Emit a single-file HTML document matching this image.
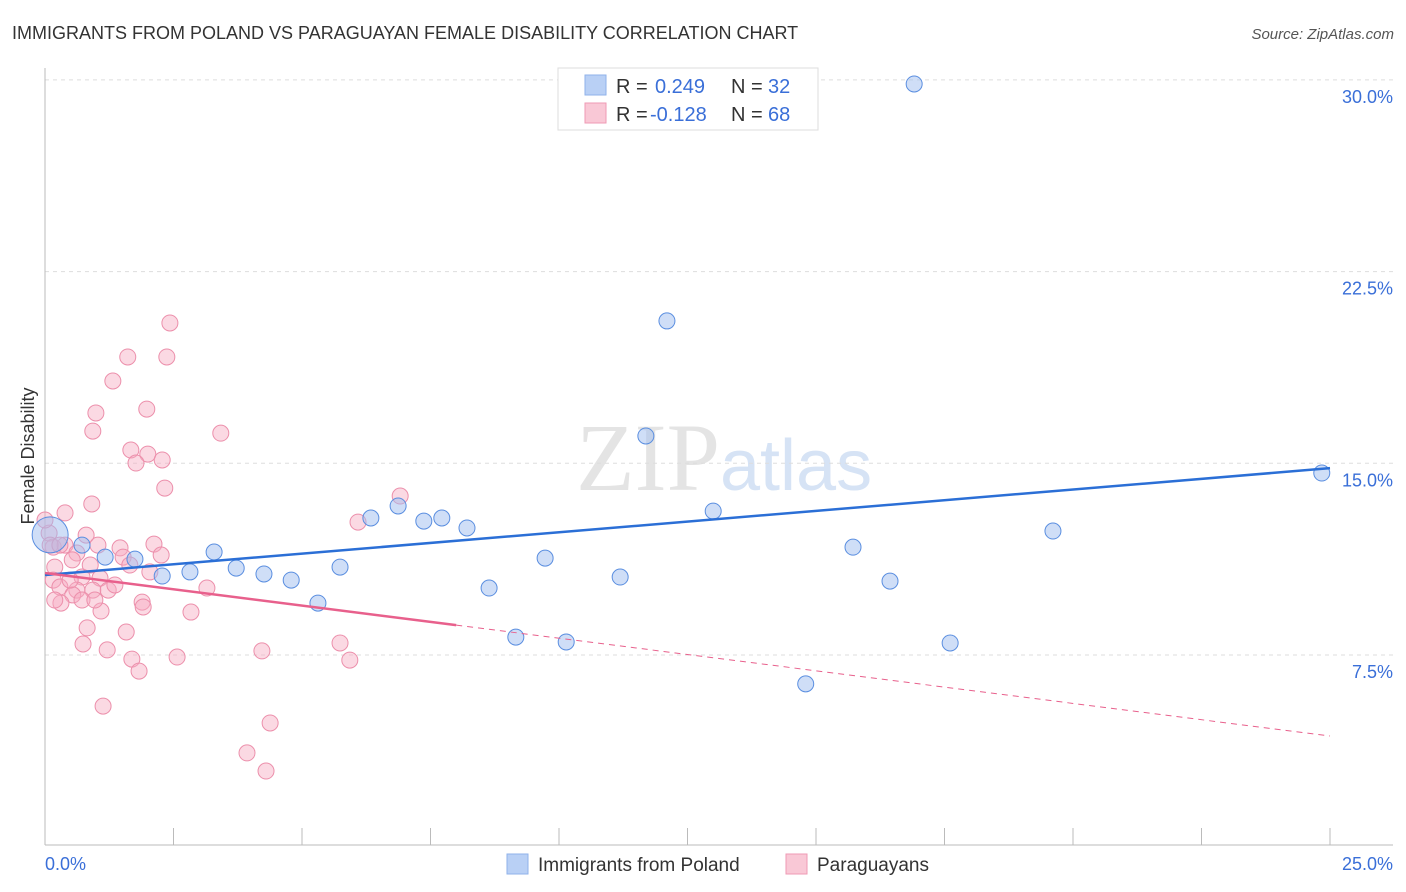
<!DOCTYPE html>
<html><head><meta charset="utf-8"><style>
body{margin:0;background:#fff;font-family:"Liberation Sans",sans-serif;}
svg{display:block}
</style></head><body>
<svg id="chart" width="1406" height="892" font-family="Liberation Sans, sans-serif">
<text x="12" y="39" font-size="18" fill="#333">IMMIGRANTS FROM POLAND VS PARAGUAYAN FEMALE DISABILITY CORRELATION CHART</text>
<text x="1394" y="39" font-size="15" fill="#555" text-anchor="end" font-style="italic">Source: ZipAtlas.com</text>
<text x="720" y="490" font-size="96" fill="#e4e4e4" text-anchor="end" font-family="Liberation Serif, serif">ZIP</text>
<text x="720" y="490" font-size="72" fill="#d6e3f5">atlas</text>
<text transform="translate(34,456) rotate(-90)" font-size="18" fill="#333" text-anchor="middle">Female Disability</text>
<g id="grid"></g><g id="axes"></g><g id="pts"></g><g id="lines"></g>
<g>
<rect x="558" y="68" width="260" height="62" fill="#fff" stroke="#ddd"/>
<rect x="585" y="75" width="21" height="20" fill="#b9d0f5" stroke="#8fb2ea"/>
<rect x="585" y="103" width="21" height="20" fill="#f9c8d6" stroke="#ef9ab4"/>
<text x="616" y="93" font-size="20" fill="#333">R = </text><text x="655" y="93" font-size="20" fill="#3a6fd8">0.249</text>
<text x="731" y="93" font-size="20" fill="#333">N = </text><text x="768" y="93" font-size="20" fill="#3a6fd8">32</text>
<text x="616" y="121" font-size="20" fill="#333">R = </text><text x="650" y="121" font-size="20" fill="#3a6fd8">-0.128</text>
<text x="731" y="121" font-size="20" fill="#333">N = </text><text x="768" y="121" font-size="20" fill="#3a6fd8">68</text>
</g>
<g>
<rect x="507" y="854" width="21" height="20" fill="#b9d0f5" stroke="#8fb2ea"/>
<text x="538" y="871" font-size="19" fill="#333">Immigrants from Poland</text>
<rect x="786" y="854" width="21" height="20" fill="#f9c8d6" stroke="#ef9ab4"/>
<text x="817" y="871" font-size="19" fill="#333">Paraguayans</text>
</g>
</svg>
<script>
const blueX=[0.1,0.72,1.17,1.75,2.28,2.82,3.29,3.72,4.26,4.79,5.31,5.74,6.34,6.87,7.37,7.72,8.21,8.64,9.16,9.73,10.14,11.19,11.69,12.10,13.0,14.80,15.72,16.44,16.91,17.61,19.61,24.84];
const blueY=[12.2,11.80,11.33,11.25,10.59,10.75,11.53,10.90,10.67,10.43,9.53,10.94,12.86,13.33,12.74,12.86,12.47,10.12,8.20,11.29,8.01,10.55,16.07,20.57,13.13,6.37,11.72,10.39,29.84,7.97,12.35,14.62];
const pinkX=[2.43,1.61,2.37,1.32,0.99,0.93,1.98,3.42,1.67,2.00,1.77,2.28,2.33,0.91,0.39,6.09,6.91,0.80,1.03,0.08,1.46,1.52,2.12,2.26,0.16,0.39,0.62,0.53,0.19,2.04,1.07,0.72,0.16,0.29,0.62,0.93,1.23,0.54,0.72,0.31,3.15,1.89,1.91,1.09,2.84,0.82,1.58,0.74,1.21,1.69,1.83,2.57,4.22,5.74,5.93,1.13,4.38,3.93,4.30,0.0,0.1,0.49,0.88,1.36,0.29,1.65,0.19,0.97];
const pinkY=[20.49,19.16,19.16,18.22,16.97,16.26,17.12,16.18,15.52,15.36,15.01,15.13,14.03,13.41,13.06,12.70,13.72,12.19,11.80,12.27,11.69,11.33,11.84,11.41,11.72,11.80,11.49,11.22,10.94,10.75,10.51,10.55,10.43,10.16,10.04,10.04,10.04,9.85,9.65,9.53,10.12,9.57,9.38,9.22,9.18,8.56,8.40,7.93,7.70,7.34,6.87,7.42,7.66,7.97,7.30,5.50,4.84,3.67,2.96,12.78,11.80,10.43,11.02,10.24,11.80,11.02,9.65,9.65];
const yTicks=[7.5,15,22.5,30];
const yTickLabels=["7.5%","15.0%","22.5%","30.0%"];
const blueTrend=[10.63,14.81];
const pinkTrend=[10.71,4.33];
const pinkSolidEnd=8.0;
const X=v=>45+v/25*1285, Y=v=>655-(v-7.5)*25.56;
const NS="http://www.w3.org/2000/svg";
function mk(p,t,a){const e=document.createElementNS(NS,t);for(const k in a)e.setAttribute(k,a[k]);p.appendChild(e);return e;}
const grid=document.getElementById('grid'),axes=document.getElementById('axes'),pts=document.getElementById('pts'),lines=document.getElementById('lines');
yTicks.forEach((v,i)=>{
 const l=mk(grid,'line',{x1:45,x2:1393,y1:Y(v),y2:Y(v),stroke:'#ddd','stroke-dasharray':'4,4'});
 
 
 const t=mk(axes,'text',{x:1393,y:Y(v)+23,'font-size':18,fill:'#3a6fd8','text-anchor':'end'});t.textContent=yTickLabels[i];
 
 
});
const ya=mk(axes,'line',{x1:45,x2:45,y1:68,y2:845,stroke:'#bbb'});


const xa=mk(axes,'line',{x1:45,x2:1393,y1:845,y2:845,stroke:'#bbb'});


for(let i=0;i<=10;i++){const tk=mk(axes,'line',{x1:X(i*2.5),x2:X(i*2.5),y1:828,y2:845,stroke:'#bbb'});
 
 }
const xl0=mk(axes,'text',{x:45,y:870,'font-size':18,fill:'#3a6fd8'});xl0.textContent='0.0%';


const xl1=mk(axes,'text',{x:1393,y:870,'font-size':18,fill:'#3a6fd8','text-anchor':'end'});xl1.textContent='25.0%';


pinkX.forEach((v,i)=>{const c=mk(pts,'circle',{cx:X(v),cy:Y(pinkY[i]),r:8,fill:'rgba(246,170,193,0.45)',stroke:'#ec8fab','stroke-width':1});
 
 });
blueX.forEach((v,i)=>{const c=mk(pts,'circle',{cx:X(v),cy:Y(blueY[i]),r:i===0?18:8,fill:'rgba(160,190,240,0.5)',stroke:'#5a8ee0','stroke-width':1});
 
 });
const bt=mk(lines,'line',{x1:X(0),y1:Y(blueTrend[0]),x2:X(25),y2:Y(blueTrend[1]),stroke:'#2b6fd6','stroke-width':2.5});


const pv=x=>pinkTrend[0]+(pinkTrend[1]-pinkTrend[0])*x/25;
const ps=mk(lines,'line',{x1:X(0),y1:Y(pinkTrend[0]),x2:X(pinkSolidEnd),y2:Y(pv(pinkSolidEnd)),stroke:'#e8608c','stroke-width':2.5});


const pd=mk(lines,'line',{x1:X(pinkSolidEnd),y1:Y(pv(pinkSolidEnd)),x2:X(25),y2:Y(pinkTrend[1]),stroke:'#e8608c','stroke-width':1,'stroke-dasharray':'6,5'});


</script>
</body></html>
